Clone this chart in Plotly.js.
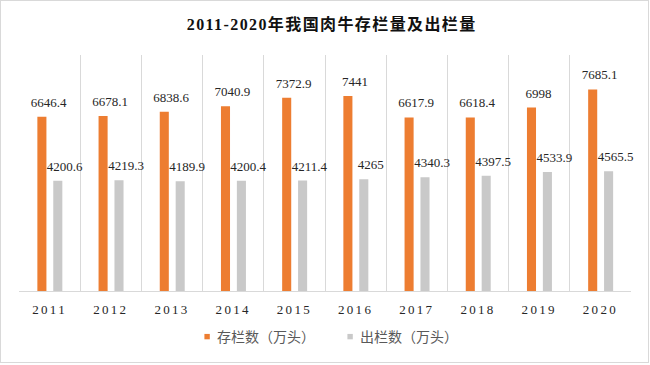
<!DOCTYPE html>
<html>
<head>
<meta charset="utf-8">
<script src="https://cdn.plot.ly/plotly-3.0.1.min.js"></script>
<style>
  html, body { margin: 0; padding: 0; background: #fff; }
  #wrap { position: relative; width: 650px; height: 365px; }
  #chart { width: 650px; height: 365px; }
  #frame { position: absolute; left: 0; top: 0; width: 647px; height: 361px; border: 1px solid #d9d9d9; pointer-events: none; }
  .xtick text { letter-spacing: 2.3px; }
  .gtitle { letter-spacing: 1.4px; }
</style>
</head>
<body>
<div id="wrap">
  <div id="chart"></div>
  <div id="frame"></div>
</div>
<script>
const years = ['2011','2012','2013','2014','2015','2016','2017','2018','2019','2020'];
const stockValues = [6646.4, 6678.1, 6838.6, 7040.9, 7372.9, 7441, 6617.9, 6618.4, 6998, 7685.1];
const slaughterValues = [4200.6, 4219.3, 4189.9, 4200.4, 4211.4, 4265, 4340.3, 4397.5, 4533.9, 4565.5];
const seriesNames = ['存栏数（万头）', '出栏数（万头）'];
const chartTitle = '2011-2020年我国肉牛存栏量及出栏量';

const labelFont = { family: 'Liberation Serif, Times New Roman, serif', size: 13, color: '#262626' };

const traces = [
  {
    type: 'bar', name: seriesNames[0], x: years, y: stockValues,
    width: 0.148, offset: -0.2,
    marker: { color: '#ED7D31' },
    text: stockValues.map(String), textposition: 'outside', textfont: labelFont,
    constraintext: 'none', cliponaxis: false, hoverinfo: 'x+y'
  },
  {
    type: 'bar', name: seriesNames[1], x: years, y: slaughterValues,
    width: 0.148, offset: 0.06,
    marker: { color: '#C9C9C9' },
    text: slaughterValues.map(String), textposition: 'outside', textfont: labelFont,
    constraintext: 'none', cliponaxis: false, hoverinfo: 'x+y'
  }
];

const layout = {
  width: 650, height: 365,
  margin: { l: 19, r: 19, t: 55, b: 69 },
  paper_bgcolor: '#ffffff', plot_bgcolor: '#ffffff',
  barmode: 'overlay',
  title: {
    text: '<b>' + chartTitle + '</b>',
    font: { family: 'Liberation Serif, Noto Sans CJK SC, serif', size: 16, color: '#111111' },
    x: 0.511, xanchor: 'center', xref: 'paper',
    y: 1 - 24.7 / 365, yref: 'container', yanchor: 'middle'
  },
  xaxis: {
    type: 'category', tickson: 'boundaries',
    showgrid: true, gridcolor: '#d9d9d9', gridwidth: 1,
    showline: true, linecolor: '#d9d9d9', linewidth: 1,
    ticks: '', ticklabelstandoff: 6,
    tickfont: { family: 'Liberation Serif, Times New Roman, serif', size: 13, color: '#262626' },
    fixedrange: true
  },
  yaxis: {
    range: [0, 9000], visible: false, showgrid: false, zeroline: false, fixedrange: true
  },
  showlegend: true,
  legend: {
    orientation: 'h', x: 0.492, xanchor: 'center', y: -0.195, yanchor: 'middle',
    font: { family: 'Noto Sans CJK SC, sans-serif', size: 14, color: '#595959' },
    itemclick: false, itemdoubleclick: false
  }
};

Plotly.newPlot('chart', traces, layout, { displayModeBar: false, staticPlot: true }).then(function () {
  document.querySelectorAll('.legendpoints path').forEach(function (p) {
    const t = p.getAttribute('transform') || '';
    p.setAttribute('transform', t + ' translate(10,0) scale(0.45)');
  });
  document.querySelectorAll('.bars .point text').forEach(function (el) {
    const t = el.getAttribute('transform') || '';
    el.setAttribute('transform', 'translate(7,-4) ' + t);
  });
});
</script>
</body>
</html>
